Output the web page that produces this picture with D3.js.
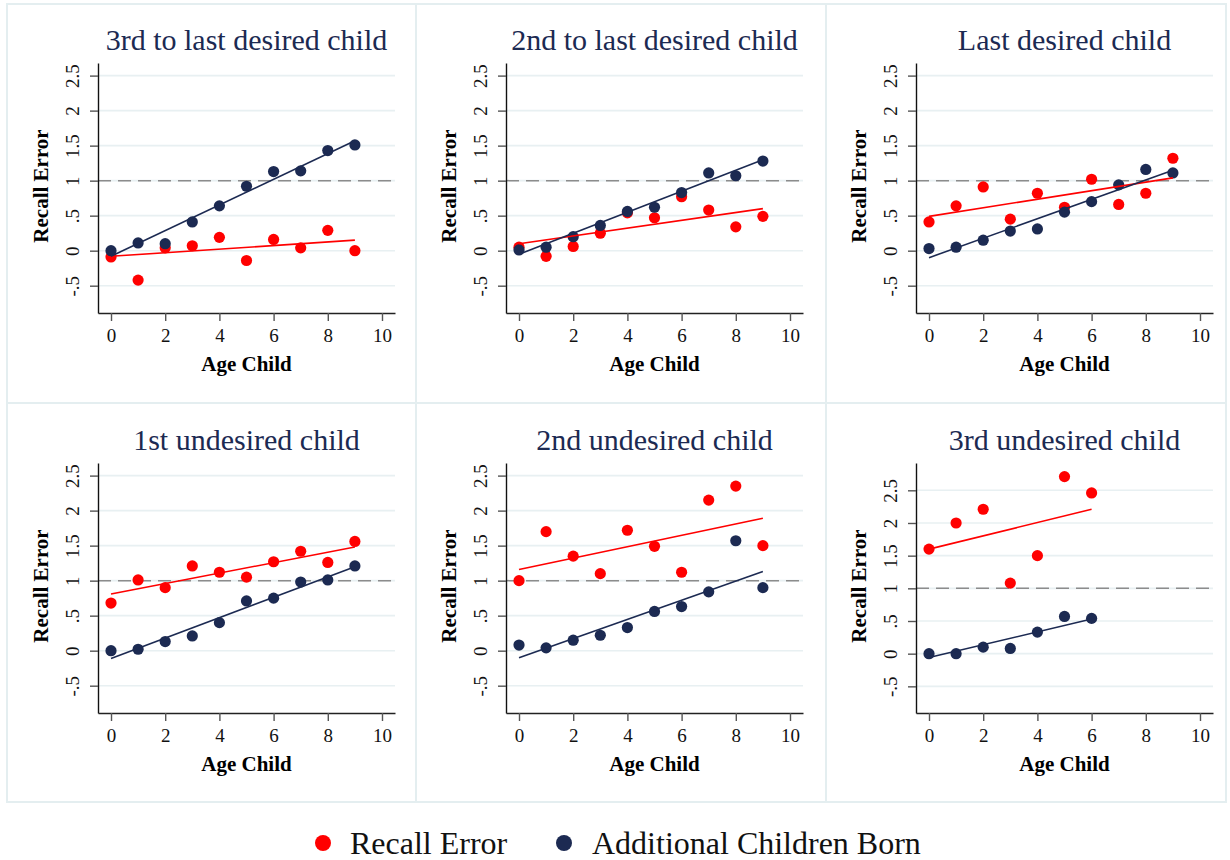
<!DOCTYPE html>
<html>
<head>
<meta charset="utf-8">
<script src="https://cdn.jsdelivr.net/npm/d3@7"></script>
<style>
  html, body { margin: 0; padding: 0; background: #ffffff; }
  svg { display: block; }
  text { font-family: "Liberation Serif", "Times New Roman", serif; }
</style>
</head>
<body>
<svg id="chart" width="1230" height="860"></svg>
<script>
// ---- data -------------------------------------------------------------
const panelTitles = [
  "3rd to last desired child",
  "2nd to last desired child",
  "Last desired child",
  "1st undesired child",
  "2nd undesired child",
  "3rd undesired child"
];

// child age for each point (last panel stops at 6)
const ageValues = [
  [0, 1, 2, 3, 4, 5, 6, 7, 8, 9],
  [0, 1, 2, 3, 4, 5, 6, 7, 8, 9],
  [0, 1, 2, 3, 4, 5, 6, 7, 8, 9],
  [0, 1, 2, 3, 4, 5, 6, 7, 8, 9],
  [0, 1, 2, 3, 4, 5, 6, 7, 8, 9],
  [0, 1, 2, 3, 4, 5, 6]
];

const recallError = [
  [-0.09, -0.42, 0.04, 0.07, 0.19, -0.14, 0.16, 0.04, 0.29, 0.00],
  [0.05, -0.08, 0.06, 0.25, 0.54, 0.47, 0.77, 0.58, 0.34, 0.49],
  [0.41, 0.64, 0.91, 0.45, 0.82, 0.62, 1.02, 0.66, 0.82, 1.32],
  [0.68, 1.01, 0.90, 1.21, 1.12, 1.05, 1.27, 1.42, 1.26, 1.56],
  [1.00, 1.70, 1.35, 1.10, 1.72, 1.49, 1.12, 2.15, 2.35, 1.50],
  [1.60, 2.00, 2.21, 1.08, 1.50, 2.71, 2.46]
];

const additionalBorn = [
  [0.00, 0.11, 0.10, 0.41, 0.64, 0.92, 1.13, 1.14, 1.43, 1.51],
  [0.01, 0.05, 0.20, 0.36, 0.56, 0.62, 0.83, 1.11, 1.07, 1.28],
  [0.03, 0.05, 0.15, 0.28, 0.31, 0.55, 0.70, 0.94, 1.16, 1.11],
  [0.00, 0.02, 0.13, 0.21, 0.40, 0.71, 0.75, 0.98, 1.01, 1.21],
  [0.08, 0.04, 0.15, 0.22, 0.33, 0.56, 0.63, 0.84, 1.57, 0.90],
  [0.00, 0.00, 0.10, 0.08, 0.33, 0.57, 0.54]
];

// fitted-line values at the first and last age of each panel
const recallFit = [
  [-0.08, 0.15], [0.10, 0.60], [0.49, 1.04],
  [0.81, 1.48], [1.16, 1.89], [1.60, 2.21]
];
const bornFit = [
  [-0.08, 1.57], [-0.05, 1.30], [-0.10, 1.15],
  [-0.11, 1.20], [-0.10, 1.13], [-0.06, 0.53]
];

const yTickValues = [-0.5, 0, 0.5, 1, 1.5, 2, 2.5];
const yTickLabels = ["-.5", "0", ".5", "1", "1.5", "2", "2.5"];
const xTickValues = [0, 2, 4, 6, 8, 10];
const referenceLevel = 1;

const seriesNames = ["Recall Error", "Additional Children Born"];

// ---- layout -----------------------------------------------------------
const RED = "#ff0000";
const NAVY = "#1c2a52";
const GRID = "#e8f0f2";
const FRAME = "#e4eef0";

const colEdges = [7, 416, 826, 1226];
const rowEdges = [4, 403, 802];
const plotLeft = [98, 506, 916];
const plotTop = [63, 463];
const plotW = 297;
const plotH = 250;

const yDomains = [
  [-0.89, 2.68], [-0.89, 2.68], [-0.89, 2.68],
  [-0.89, 2.68], [-0.89, 2.68], [-0.908, 2.918]
];

const svg = d3.select("#chart");

// panel frames
panelTitles.forEach((_, i) => {
  const c = i % 3, r = Math.floor(i / 3);
  svg.append("rect")
    .attr("x", colEdges[c]).attr("y", rowEdges[r])
    .attr("width", colEdges[c + 1] - colEdges[c])
    .attr("height", rowEdges[r + 1] - rowEdges[r])
    .attr("fill", "none").attr("stroke", FRAME).attr("stroke-width", 2);
});

panelTitles.forEach((title, i) => {
  const c = i % 3, r = Math.floor(i / 3);
  const g = svg.append("g")
    .attr("transform", `translate(${plotLeft[c]},${plotTop[r]})`);

  const x = d3.scaleLinear().domain([-0.48, 10.48]).range([0, plotW]);
  const y = d3.scaleLinear().domain(yDomains[i]).range([plotH, 0]);

  // horizontal grid
  g.append("g").selectAll("line").data(yTickValues).join("line")
    .attr("x1", 0).attr("x2", plotW)
    .attr("y1", d => y(d)).attr("y2", d => y(d))
    .attr("stroke", GRID).attr("stroke-width", 1.6);

  // reference line at 1
  g.append("line")
    .attr("x1", 0).attr("x2", plotW)
    .attr("y1", y(referenceLevel)).attr("y2", y(referenceLevel))
    .attr("stroke", "#8c8c8c").attr("stroke-width", 1.5)
    .attr("stroke-dasharray", "13,7");

  const ages = ageValues[i];
  const pts = (vals) => ages.map((a, k) => ({ a, v: vals[k] }));

  g.append("g").selectAll("circle").data(pts(recallError[i])).join("circle")
    .attr("cx", d => x(d.a)).attr("cy", d => y(d.v)).attr("r", 5.6)
    .attr("fill", RED);
  g.append("g").selectAll("circle").data(pts(additionalBorn[i])).join("circle")
    .attr("cx", d => x(d.a)).attr("cy", d => y(d.v)).attr("r", 5.6)
    .attr("fill", NAVY);

  const a0 = ages[0], a1 = ages[ages.length - 1];
  const line = d3.line().x(d => x(d[0])).y(d => y(d[1]));
  g.append("path")
    .attr("d", line([[a0, recallFit[i][0]], [a1, recallFit[i][1]]]))
    .attr("stroke", RED).attr("stroke-width", 1.6).attr("fill", "none");
  g.append("path")
    .attr("d", line([[a0, bornFit[i][0]], [a1, bornFit[i][1]]]))
    .attr("stroke", NAVY).attr("stroke-width", 1.6).attr("fill", "none");

  // y axis
  const yAxis = g.append("g")
    .call(d3.axisLeft(y).tickValues(yTickValues)
      .tickFormat((d, k) => yTickLabels[k]).tickSize(8).tickSizeOuter(0));
  yAxis.select(".domain").attr("stroke", "#111").attr("stroke-width", 1.4);
  yAxis.selectAll(".tick line").attr("stroke", "#555").attr("stroke-width", 1.4);
  yAxis.selectAll(".tick text")
    .attr("transform", "rotate(-90)")
    .attr("x", 0).attr("y", -19.5).attr("dy", 0)
    .attr("text-anchor", "middle")
    .attr("font-size", 19).attr("fill", "#111")
    .style("font-family", "'Liberation Serif', 'Times New Roman', serif");

  // x axis
  const xAxis = g.append("g").attr("transform", `translate(0,${plotH})`)
    .call(d3.axisBottom(x).tickValues(xTickValues).tickSize(8).tickSizeOuter(0));
  xAxis.select(".domain").attr("stroke", "#222").attr("stroke-width", 1.4);
  xAxis.selectAll(".tick line").attr("stroke", "#555").attr("stroke-width", 1.4);
  xAxis.selectAll(".tick text")
    .attr("y", 28.5).attr("dy", 0)
    .attr("font-size", 19).attr("fill", "#111")
    .style("font-family", "'Liberation Serif', 'Times New Roman', serif");

  // axis titles
  g.append("text")
    .attr("x", plotW / 2).attr("y", plotH + 58)
    .attr("text-anchor", "middle").attr("font-size", 21)
    .attr("font-weight", "bold").attr("fill", "#000")
    .text("Age Child");
  g.append("text")
    .attr("transform", `translate(-50,${plotH / 2 - 2}) rotate(-90)`)
    .attr("text-anchor", "middle").attr("font-size", 21)
    .attr("font-weight", "bold").attr("fill", "#000")
    .text("Recall Error");

  // panel title
  g.append("text")
    .attr("x", plotW / 2).attr("y", -13)
    .attr("text-anchor", "middle").attr("font-size", 30)
    .attr("fill", NAVY)
    .text(title);
});

// legend
const legendItems = [
  { name: seriesNames[0], color: RED, cx: 323, tx: 350 },
  { name: seriesNames[1], color: NAVY, cx: 564, tx: 592 }
];
const lg = svg.append("g");
legendItems.forEach(d => {
  lg.append("circle").attr("cx", d.cx).attr("cy", 843).attr("r", 8).attr("fill", d.color);
  lg.append("text").attr("x", d.tx).attr("y", 854).attr("font-size", 32)
    .attr("fill", "#111").text(d.name);
});
</script>
</body>
</html>
